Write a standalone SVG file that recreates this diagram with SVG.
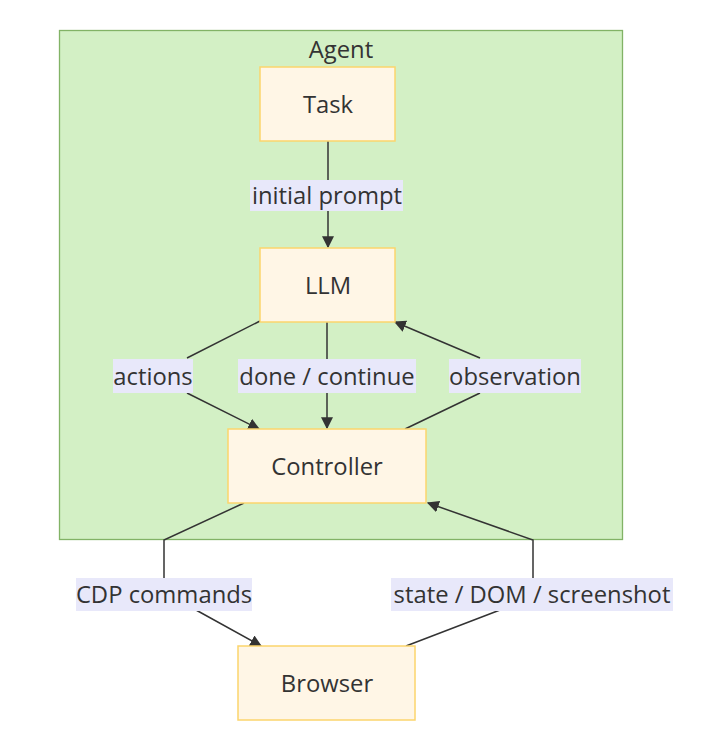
<svg xmlns="http://www.w3.org/2000/svg" width="726" height="742" viewBox="0 0 726 742">
<defs>
<style>
.cluster{fill:#d3f0c5;stroke:#82b366;stroke-width:1.3}
.node rect{fill:#fff6e6;stroke:#fcd56c;stroke-width:1.5}
text{font-family:"Open Sans","Noto Sans","Liberation Sans",sans-serif;font-size:23.8px;fill:#333;text-anchor:middle;dominant-baseline:central}
.edge{fill:none;stroke:#333;stroke-width:1.5}
.lbl{fill:#e8e8fa}
</style>
<marker id="arr" viewBox="0 0 10 10" refX="9" refY="5" markerWidth="12" markerHeight="12" markerUnits="userSpaceOnUse" orient="auto"><path d="M0,0L10,5L0,10z" fill="#333"/></marker>
</defs>
<rect width="726" height="742" fill="#fff"/>
<g id="agent">
<rect class="cluster" x="59.5" y="30.5" width="563" height="509"/>
<text x="341" y="49">Agent</text>
</g>
<g id="connectors">
<path class="edge" d="M328,141L328,247" marker-end="url(#arr)"/>
<path class="edge" d="M260,321L187,358M187,393L259,429" marker-end="url(#arr)"/>
<path class="edge" d="M327,322L327,428" marker-end="url(#arr)"/>
<path class="edge" d="M405,429L480,393M480,358L395,322" marker-end="url(#arr)"/>
<path class="edge" d="M244,503L164,540L164,578M196,610L261,646" marker-end="url(#arr)"/>
<path class="edge" d="M406,646L500,610M533,578L533,540L428,503" marker-end="url(#arr)"/>
<rect class="lbl" x="250" y="180" width="153" height="31"/>
<text x="327" y="195">initial prompt</text>
<rect class="lbl" x="113" y="359" width="80" height="34"/>
<text x="153" y="376">actions</text>
<rect class="lbl" x="238" y="359" width="178" height="34"/>
<text x="327" y="376">done / continue</text>
<rect class="lbl" x="449" y="359" width="132" height="34"/>
<text x="515" y="376">observation</text>
<rect class="lbl" x="76" y="578" width="176" height="33"/>
<text x="164" y="594">CDP commands</text>
<rect class="lbl" x="391" y="578" width="282" height="33"/>
<text x="532" y="594">state / DOM / screenshot</text>
</g>
<g id="task" class="node"><rect x="260" y="67" width="135" height="74"/><text x="328" y="104">Task</text></g>
<g id="llm" class="node"><rect x="260" y="248" width="135" height="74"/><text x="328" y="285">LLM</text></g>
<g id="controller" class="node"><rect x="228" y="429" width="198" height="74"/><text x="327" y="466">Controller</text></g>
<g id="browser" class="node"><rect x="238" y="646" width="177" height="74"/><text x="327" y="683">Browser</text></g>
</svg>
